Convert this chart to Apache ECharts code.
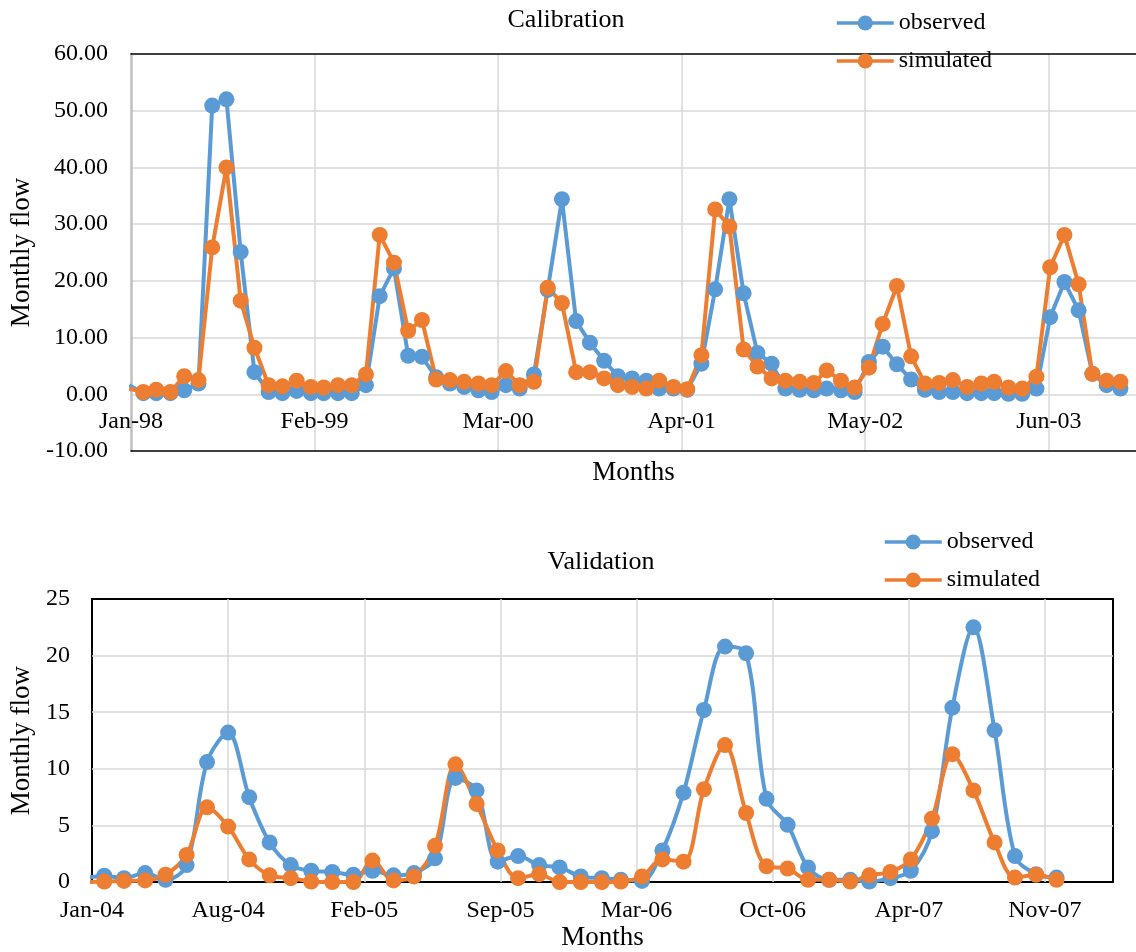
<!DOCTYPE html>
<html>
<head>
<meta charset="utf-8">
<script src="https://cdn.jsdelivr.net/npm/echarts@6/dist/echarts.min.js"></script>
<style>html,body{margin:0;padding:0;background:#fff}#c{width:1136px;height:952px}</style>
</head>
<body>
<div id="c"></div>
<script>
// ---- data (monthly flow) ----
const calStart = [1998, 1];   // Jan-98 .. Dec-03
const calObserved = [
  1.6, 0.2, 0.2, 0.2, 0.7, 1.9, 50.9, 52.0, 25.1, 3.9, 0.4, 0.2,
  0.6, 0.2, 0.2, 0.2, 0.2, 1.6, 17.3, 22.2, 6.8, 6.6, 3.0, 1.9,
  1.3, 0.7, 0.4, 1.6, 1.0, 3.5, 18.4, 34.4, 12.9, 9.1, 5.9, 3.2,
  2.8, 2.4, 1.0, 1.0, 0.8, 5.4, 18.5, 34.4, 17.8, 7.3, 5.4, 1.0,
  0.8, 0.7, 1.0, 0.7, 0.4, 5.7, 8.4, 5.3, 2.6, 0.8, 0.4, 0.4,
  0.2, 0.2, 0.2, 0.1, 0.1, 1.0, 13.6, 19.8, 14.8, 3.6, 1.6, 1.0
];
const calSimulated = [
  1.0, 0.4, 0.8, 0.4, 3.2, 2.5, 25.9, 40.0, 16.5, 8.2, 1.6, 1.4,
  2.4, 1.3, 1.2, 1.6, 1.6, 3.5, 28.1, 23.2, 11.2, 13.1, 2.6, 2.5,
  2.2, 1.9, 1.6, 4.1, 1.6, 2.2, 18.8, 16.1, 3.9, 3.9, 2.8, 1.6,
  1.3, 1.0, 2.4, 1.3, 0.9, 6.9, 32.6, 29.6, 7.9, 4.9, 2.8, 2.4,
  2.2, 2.0, 4.2, 2.4, 1.2, 4.7, 12.4, 19.1, 6.7, 1.9, 2.0, 2.5,
  1.3, 1.9, 2.2, 1.2, 1.0, 3.1, 22.4, 28.1, 19.4, 3.6, 2.4, 2.2
];
const valStart = [2004, 1];   // Jan-04 .. Dec-07
const valObserved = [
  0.3, 0.56, 0.35, 0.8, 0.2, 1.5, 10.6, 13.2, 7.5, 3.5, 1.5, 1.0,
  0.9, 0.65, 1.0, 0.6, 0.8, 2.1, 9.2, 8.1, 1.8, 2.3, 1.5, 1.3,
  0.5, 0.35, 0.2, 0.1, 2.8, 7.9, 15.2, 20.8, 20.2, 7.35, 5.06, 1.3,
  0.2, 0.2, 0.05, 0.35, 1.0, 4.5, 15.4, 22.5, 13.4, 2.3, 0.7, 0.4
];
const valSimulated = [
  0.0, 0.05, 0.1, 0.15, 0.65, 2.4, 6.6, 4.9, 2.0, 0.6, 0.35, 0.05,
  0.0, 0.0, 1.9, 0.15, 0.5, 3.2, 10.4, 6.9, 2.8, 0.35, 0.7, 0.0,
  0.0, 0.0, 0.05, 0.5, 2.0, 1.8, 8.2, 12.1, 6.1, 1.4, 1.2, 0.2,
  0.2, 0.05, 0.6, 0.9, 2.0, 5.6, 11.3, 8.1, 3.5, 0.4, 0.65, 0.2
];
const calTickLabels = ['Jan-98', 'Feb-99', 'Mar-00', 'Apr-01', 'May-02', 'Jun-03'];
const valTickLabels = ['Jan-04', 'Aug-04', 'Feb-05', 'Sep-05', 'Mar-06', 'Oct-06', 'Apr-07', 'Nov-07'];

// date serial (days, spreadsheet convention) of the 1st of each month
function serial(y, m) {
  return Math.round((Date.UTC(y, m - 1, 1) - Date.UTC(1899, 11, 30)) / 86400000);
}
function pairs(start, vals) {
  return vals.map(function (v, i) {
    const k = start[1] - 1 + i;
    return [serial(start[0] + Math.floor(k / 12), (k % 12) + 1), v];
  });
}

const FONT = '"Liberation Serif", "Times New Roman", serif';
const BLUE = '#5B9BD5', ORANGE = '#ED7D31';
const GRID_GRAY = '#d9d9d9';

const CAL_MIN = 35800, CAL_MAX = 37990, CAL_STEP = 400;
const VAL_MIN = 38000, VAL_MAX = 39500, VAL_STEP = 200;

function lineSeries(name, color, xi, data, smooth) {
  return {
    name: name, type: 'line', xAxisIndex: xi, yAxisIndex: xi,
    data: data, smooth: smooth, clip: true,
    symbol: 'circle', symbolSize: 16, showSymbol: true,
    lineStyle: { color: color, width: 4 },
    itemStyle: { color: color, borderWidth: 0 },
    emphasis: { disabled: true }
  };
}

const legendBase = {
  orient: 'vertical', itemWidth: 57, itemHeight: 19, itemGap: 14,
  data: ['observed', 'simulated'],
  lineStyle: { width: 3.5 },
  textStyle: { fontFamily: FONT, fontSize: 24, color: '#000' },
  selectedMode: false
};

const splitStyle = { show: true, showMinLine: false, showMaxLine: false, lineStyle: { color: GRID_GRAY, width: 1.5 } };

const option = {
  animation: false,
  textStyle: { fontFamily: FONT },
  title: [
    { text: 'Calibration', left: 561, top: 2, textAlign: 'center',
      textStyle: { fontFamily: FONT, fontSize: 26, fontWeight: 'normal', color: '#000' } },
    { text: 'Validation', left: 596, top: 544, textAlign: 'center',
      textStyle: { fontFamily: FONT, fontSize: 26, fontWeight: 'normal', color: '#000' } }
  ],
  legend: [
    Object.assign({}, legendBase, { left: 830, top: 6 }),
    Object.assign({}, legendBase, { left: 878, top: 525 })
  ],
  grid: [
    { left: 131, top: 54, right: 0, height: 397, show: false },
    { left: 92, top: 599, width: 1021, height: 285, show: true, borderColor: '#000', borderWidth: 2 }
  ],
  xAxis: [
    { type: 'value', gridIndex: 0, min: CAL_MIN, max: CAL_MAX, interval: CAL_STEP,
      name: 'Months', nameLocation: 'middle', nameGap: 8,
      nameTextStyle: { fontFamily: FONT, fontSize: 27, color: '#000' },
      axisLine: { show: true, onZero: false, lineStyle: { color: '#000', width: 1.5 } },
      axisTick: { show: false },
      axisLabel: { showMaxLabel: false, margin: -41, fontFamily: FONT, fontSize: 24, color: '#000',
        formatter: function (v) { const i = Math.round((v - CAL_MIN) / CAL_STEP); return calTickLabels[i] || ''; } },
      splitLine: splitStyle },
    { type: 'value', gridIndex: 1, min: VAL_MIN, max: VAL_MAX, interval: VAL_STEP,
      name: 'Months', nameLocation: 'middle', nameGap: 40,
      nameTextStyle: { fontFamily: FONT, fontSize: 27, color: '#000' },
      axisLine: { show: false, onZero: false },
      axisTick: { show: false },
      axisLabel: { showMaxLabel: false, margin: 17, fontFamily: FONT, fontSize: 24, color: '#000',
        formatter: function (v) { const i = Math.round((v - VAL_MIN) / VAL_STEP); return valTickLabels[i] || ''; } },
      splitLine: splitStyle },
    // top frame line of the calibration plot
    { type: 'value', gridIndex: 0, position: 'top', min: CAL_MIN, max: CAL_MAX,
      axisLine: { show: true, onZero: false, lineStyle: { color: '#000', width: 1.5 } },
      axisTick: { show: false }, axisLabel: { show: false }, splitLine: { show: false } }
  ],
  yAxis: [
    { type: 'value', gridIndex: 0, min: -10, max: 60, interval: 10,
      name: 'Monthly flow', nameLocation: 'middle', nameGap: 91,
      nameTextStyle: { fontFamily: FONT, fontSize: 27, color: '#000' },
      axisLine: { show: true, onZero: false, lineStyle: { color: '#bfbfbf', width: 2.5 } },
      axisTick: { show: false },
      axisLabel: { margin: 23, fontFamily: FONT, fontSize: 24, color: '#000',
        formatter: function (v) { return v.toFixed(2); } },
      splitLine: splitStyle },
    { type: 'value', gridIndex: 1, min: 0, max: 25, interval: 5,
      name: 'Monthly flow', nameLocation: 'middle', nameGap: 54,
      nameTextStyle: { fontFamily: FONT, fontSize: 27, color: '#000' },
      axisLine: { show: false, onZero: false },
      axisTick: { show: false },
      axisLabel: { margin: 22, fontFamily: FONT, fontSize: 24, color: '#000' },
      splitLine: splitStyle }
  ],
  series: [
    lineSeries('observed', BLUE, 0, pairs(calStart, calObserved), false),
    lineSeries('simulated', ORANGE, 0, pairs(calStart, calSimulated), false),
    lineSeries('observed', BLUE, 1, pairs(valStart, valObserved), 0.33),
    lineSeries('simulated', ORANGE, 1, pairs(valStart, valSimulated), 0.33)
  ]
};

const chart = echarts.init(document.getElementById('c'), null, { renderer: 'canvas' });
chart.setOption(option);
</script>
</body>
</html>
